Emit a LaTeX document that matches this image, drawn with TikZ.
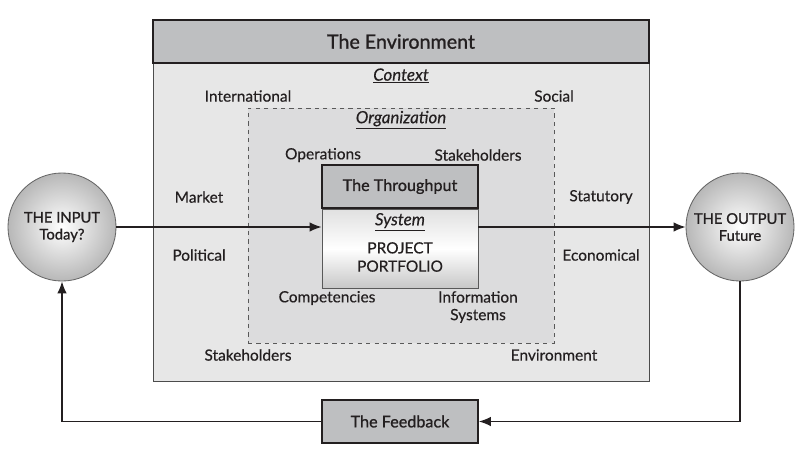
\documentclass[tikz,border=0pt]{standalone}
\usepackage{fontspec}
\setmainfont{Lato}[FakeBold=0.35]
\newfontfamily\headfont{Lato}[FakeBold=1]
\usetikzlibrary{calc,arrows.meta}
\definecolor{headgray}{HTML}{BEBFC1}
\definecolor{bodygray}{HTML}{E7E7E7}
\definecolor{orggray}{HTML}{DCDCDD}
\definecolor{ink}{HTML}{231F20}
\newcommand{\ulit}[1]{\underline{\textit{#1}}}

\begin{document}
\begin{tikzpicture}[x=0.025cm,y=-0.025cm,
	headbox/.style={draw=ink,line width=1.2pt,fill=headgray,inner sep=0pt,text=ink,font=\headfont\fontsize{11.5}{13}\selectfont},
	lbl/.style={font=\fontsize{11}{12.5}\selectfont,align=center,text=ink},
	ulbl/.style={lbl,font=\fontsize{12}{13}\selectfont},
	ball/.style={circle,draw=black!60,line width=0.6pt,inner sep=0pt,minimum size=2.7cm,text=ink,
		inner color=white,outer color=black!28,align=center,font=\headfont\fontsize{10.5}{12}\selectfont},
	flow/.style={-{Latex[length=3mm,width=2.4mm]},line width=1pt,draw=ink}]
	\useasboundingbox (0,0) rectangle (800,450);
	% environment
	\node[draw=black!70,line width=0.6pt,fill=bodygray,minimum width=12.4cm,minimum height=7.95cm] (env) at (401,222) {};
	\node[headbox,minimum width=12.4cm,minimum height=1.075cm,font=\headfont\fontsize{14}{16}\selectfont] (envhead) at (401,41.5) {The Environment};
	\node[ulbl] (context) at (401,76) {\ulit{Context}};
	% organization
	\node[draw=black!65,dashed,line width=0.6pt,fill=orggray,minimum width=7.65cm,minimum height=5.875cm] (org) at (401,225.5) {};
	\node[ulbl] (orglbl) at (401,120) {\ulit{Organization}};
	% context factors
	\foreach \P/\T [count=\i] in {{248,96}/International,{554,96}/Social,{199,197}/Market,{199,255}/Political,
		{601,197}/Statutory,{601,255}/Economical,{248,355}/Stakeholders,{554,355}/Environment,
		{323,155}/Operations,{478,155}/Stakeholders,{327,298}/Competencies,{478,307}/{Information\\Systems}}
	{\node[lbl] (f\i) at (\P) {\T};}
	% throughput
	\node[headbox,minimum width=3.9cm,minimum height=1.075cm] (thru) at (400,186.5) {The Throughput};
	\node[draw=black!65,line width=0.6pt,top color=black!12,bottom color=black!22,middle color=white,
		minimum width=3.9cm,minimum height=1.975cm,anchor=north] (sys) at (thru.south) {};
	\node[ulbl] (syslbl) at (400,222) {\ulit{System}};
	\node[lbl,font=\fontsize{11}{13}\selectfont] (pp) at (400,257) {PROJECT\\PORTFOLIO};
	% input / output
	\node[ball] (in) at (62,227) {THE INPUT\\Today?};
	\node[ball] (out) at (740,227) {THE OUTPUT\\Future};
	\node[headbox,minimum width=3.9cm,minimum height=1.075cm] (fb) at (400,421.5) {The Feedback};
	% connectors
	\draw[flow] (in) -- (in -| sys.west);
	\draw[flow] (out -| sys.east) -- (out);
	\draw[flow] (out.south) |- (fb.east);
	\draw[flow] (fb.west) -| (in.south);
\end{tikzpicture}
\end{document}
